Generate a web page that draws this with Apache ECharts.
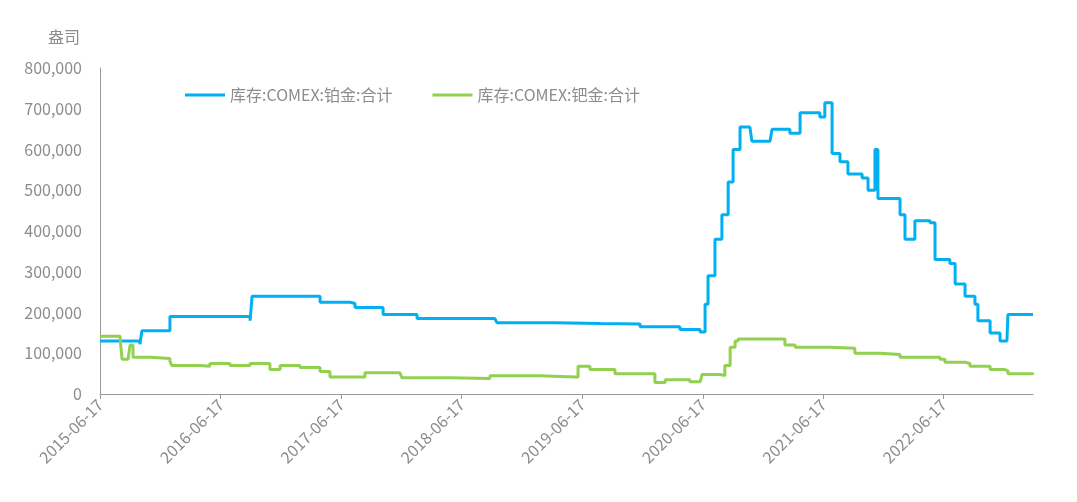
<!DOCTYPE html>
<html><head><meta charset="utf-8">
<script src="https://cdn.jsdelivr.net/npm/echarts@6/dist/echarts.min.js"></script>
<style>html,body{margin:0;padding:0;background:#fff}#c{width:1077px;height:502px}</style>
</head><body><div id="c"></div>
<script>
const tickDates = ['2015-06-17','2016-06-17','2017-06-17','2018-06-17','2019-06-17','2020-06-17','2021-06-17','2022-06-17'];
const ptDates = ['2015-06-17','2015-10-16','2015-10-22','2016-01-15','2016-09-14','2016-09-20','2017-04-14','2017-07-14','2017-07-29','2017-10-22','2018-02-02','2018-09-26','2018-10-02','2019-03-27','2019-08-11','2019-12-10','2020-04-09','2020-06-09','2020-06-24','2020-07-03','2020-07-24','2020-08-14','2020-09-02','2020-09-17','2020-10-08','2020-11-07','2020-11-13','2021-01-07','2021-01-13','2021-03-08','2021-04-08','2021-06-07','2021-06-22','2021-07-14','2021-08-07','2021-08-31','2021-10-13','2021-10-31','2021-11-21','2021-11-30','2022-01-21','2022-02-05','2022-02-20','2022-03-22','2022-05-07','2022-05-22','2022-07-06','2022-07-22','2022-08-21','2022-09-20','2022-09-29','2022-11-05','2022-12-05','2022-12-26','2022-12-29','2023-03-15'];
const ptValues = [130000,122000,155000,190000,180000,240000,225000,222000,212000,195000,185000,183000,175000,173000,172000,165000,158000,152000,220000,290000,380000,440000,520000,600000,655000,655000,620000,620000,650000,640000,690000,680000,715000,590000,570000,540000,530000,500000,600000,480000,480000,440000,380000,425000,420000,330000,320000,270000,240000,220000,180000,150000,130000,130000,195000,195000];
const pdDates = ['2015-06-17','2015-08-17','2015-08-23','2015-09-10','2015-09-16','2015-09-25','2015-11-16','2016-01-15','2016-01-21','2016-04-15','2016-05-15','2016-07-15','2016-09-14','2016-11-13','2016-12-14','2017-02-12','2017-04-14','2017-05-14','2017-08-13','2017-08-28','2017-12-12','2017-12-18','2018-04-13','2018-05-13','2018-09-11','2019-02-10','2019-05-27','2019-06-05','2019-07-11','2019-09-25','2020-01-09','2020-01-24','2020-02-24','2020-05-09','2020-06-09','2020-06-15','2020-08-08','2020-08-23','2020-09-08','2020-09-23','2020-10-02','2021-02-06','2021-02-21','2021-03-24','2021-07-08','2021-09-21','2021-12-06','2022-02-05','2022-06-06','2022-06-21','2022-08-21','2022-09-05','2022-11-05','2022-12-20','2022-12-29','2023-03-15'];
const pdValues = [142000,135000,85000,85000,120000,90000,87000,80000,70000,68000,75000,70000,75000,60000,70000,65000,55000,42000,42000,52000,50000,40000,40000,38000,45000,42000,42000,68000,60000,50000,50000,28000,35000,30000,30000,48000,45000,70000,115000,130000,135000,135000,120000,115000,112000,100000,97000,90000,85000,78000,75000,68000,60000,57000,50000,48000];
const seriesNames = ['库存:COMEX:铂金:合计','库存:COMEX:钯金:合计'];
const ts = s => Date.parse(s + 'T00:00:00Z');
const zip = (d,v)=>d.map((x,i)=>[ts(x),v[i]]);
const tickTs = tickDates.map(ts);
const grey='#8c8c8c', font='Microsoft YaHei, Noto Sans CJK SC, sans-serif';
const chart = echarts.init(document.getElementById('c'));
chart.setOption({
  animation:false,
  grid:{left:100,right:44,top:68,bottom:108,containLabel:false},
  legend:{top:82,left:180,itemGap:40,itemWidth:40,itemHeight:3,icon:'rect',
    textStyle:{color:grey,fontSize:16,fontFamily:font},data:seriesNames},
  xAxis:{type:'value',min:ts('2015-06-17'),max:ts('2023-03-15'),
    axisLine:{lineStyle:{color:'#999'}},
    axisTick:{show:true,customValues:tickTs,lineStyle:{color:'#999'}},
    axisLabel:{customValues:tickTs,rotate:45,color:grey,fontSize:16,fontFamily:font,
      formatter:v=>new Date(v).toISOString().slice(0,10)},
    splitLine:{show:false}},
  yAxis:{type:'value',min:0,max:800000,interval:100000,name:'盎司',
    nameTextStyle:{color:grey,fontSize:16,fontFamily:font,align:'right',padding:[0,20,8,0]},
    axisLine:{show:true,lineStyle:{color:'#999'}},axisTick:{show:false},
    axisLabel:{color:grey,fontSize:16,fontFamily:font,margin:18},splitLine:{show:false}},
  series:[
    {name:seriesNames[0],type:'line',step:'end',showSymbol:false,data:zip(ptDates,ptValues),
      lineStyle:{width:3,color:'#00b0f0'},itemStyle:{color:'#00b0f0'}},
    {name:seriesNames[1],type:'line',step:'end',showSymbol:false,data:zip(pdDates,pdValues),
      lineStyle:{width:3,color:'#92d050'},itemStyle:{color:'#92d050'}}
  ]
});
</script></body></html>
